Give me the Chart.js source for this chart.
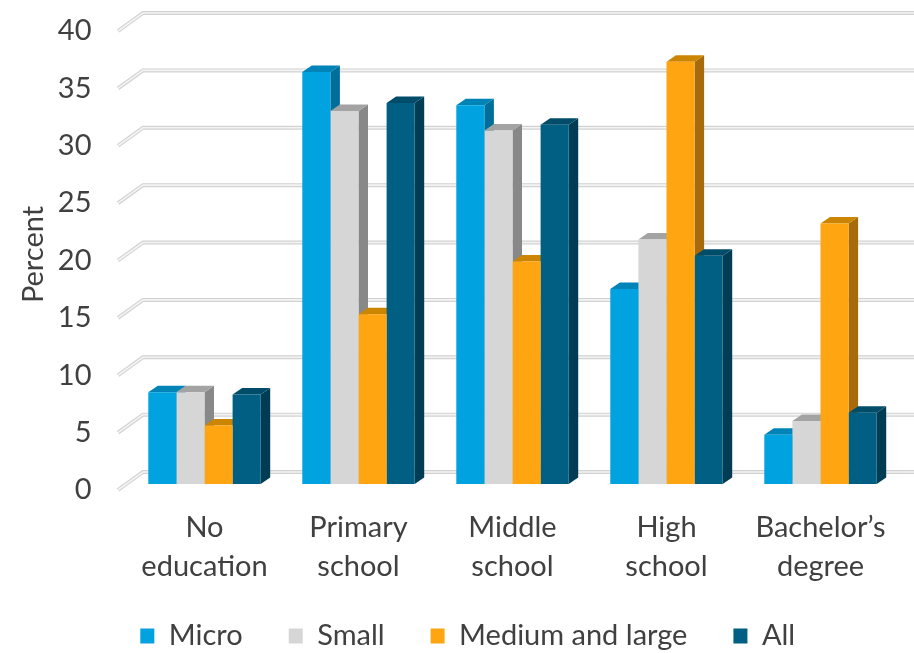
<!DOCTYPE html>
<html lang="en">
<head>
  <meta charset="UTF-8" />
  <title>Education by firm size</title>
  <script src="https://cdn.jsdelivr.net/npm/chart.js"></script>
  <style>
    html, body { margin: 0; padding: 0; background: #ffffff; }
  </style>
</head>
<body>
  <canvas id="grafico" width="914" height="653"></canvas>
<script>
  // categories and series (percent)
  const niveis = [['No', 'education'], ['Primary', 'school'], ['Middle', 'school'], ['High', 'school'], ['Bachelor\u2019s', 'degree']];
  const micro = [8.0, 35.9, 33.0, 17.0, 4.3];
  const small = [8.0, 32.5, 30.8, 21.3, 5.5];
  const mediumLarge = [5.1, 14.8, 19.4, 36.8, 22.7];
  const todos = [7.8, 33.2, 31.3, 19.9, 6.2];
  const yMin = 0;
  const yMax = 40;
  const yStep = 5;

  const textColor = '#404040';
  const fonte = 'Lato, "Open Sans", sans-serif';
  const tamanho = 29;

  // front / top / side colours for each series
  const cores = [
    { front: '#00a3e0', top: '#0084b8', side: '#006e9a' },
    { front: '#d6d6d6', top: '#a3a3a3', side: '#888888' },
    { front: '#ffa511', top: '#cc8500', side: '#a86b0b' },
    { front: '#005f83', top: '#004c69', side: '#003c53' }
  ];

  // offset of the back plane relative to the bar front
  const DX = 9.5, DY = -6.5;

  // back wall gridlines + bar depth faces, drawn before the bar fronts
  const profundidade = {
    id: 'profundidade',
    afterLayout(chart) {
      // legend sits a bit right of the canvas centre and lower
      chart.legend.left += 19;
      chart.legend.right += 19;
      chart.legend.top += 7.5;
      chart.legend.bottom += 7.5;
      // let the two-line category labels run below the axis box
      chart.scales.x.bottom = chart.height;
    },
    beforeDatasetsDraw(chart) {
      const ctx = chart.ctx;
      const y = chart.scales.y;
      const wallLeft = chart.chartArea.left + 15.5;
      ctx.save();
      y.ticks.forEach(function (t) {
        const py = y.getPixelForValue(t.value);
        const pts = [[wallLeft - 25, py + 6], [wallLeft, py - 12], [chart.width, py - 12]];
        [[4, '#d2d2d2'], [1.6, '#f4f4f4']].forEach(function (s) {
          ctx.lineWidth = s[0];
          ctx.strokeStyle = s[1];
          ctx.beginPath();
          ctx.moveTo(pts[0][0], pts[0][1]);
          ctx.lineTo(pts[1][0], pts[1][1]);
          ctx.lineTo(pts[2][0], pts[2][1]);
          ctx.stroke();
        });
      });

      const barras = [];
      chart.data.datasets.forEach(function (ds, i) {
        chart.getDatasetMeta(i).data.forEach(function (el) {
          const p = el.getProps(['x', 'y', 'base', 'width'], true);
          barras.push({ l: p.x - p.width / 2, r: p.x + p.width / 2, t: p.y, b: p.base, c: cores[i] });
        });
      });

      // side faces first, then top faces
      barras.forEach(function (b) {
        ctx.fillStyle = b.c.side;
        ctx.beginPath();
        ctx.moveTo(b.r, b.b);
        ctx.lineTo(b.r + DX, b.b + DY);
        ctx.lineTo(b.r + DX, b.t + DY);
        ctx.lineTo(b.r, b.t);
        ctx.closePath();
        ctx.fill();
      });
      barras.forEach(function (b) {
        ctx.fillStyle = b.c.top;
        ctx.beginPath();
        ctx.moveTo(b.l, b.t);
        ctx.lineTo(b.l + DX, b.t + DY);
        ctx.lineTo(b.r + DX, b.t + DY);
        ctx.lineTo(b.r, b.t);
        ctx.closePath();
        ctx.fill();
      });
      ctx.restore();
    }
  };

  const dados = {
    labels: niveis,
    datasets: [
      { label: 'Micro', data: micro, backgroundColor: cores[0].front },
      { label: 'Small', data: small, backgroundColor: cores[1].front },
      { label: 'Medium and large', data: mediumLarge, backgroundColor: cores[2].front },
      { label: 'All', data: todos, backgroundColor: cores[3].front }
    ]
  };

  const config = {
    type: 'bar',
    data: dados,
    plugins: [profundidade],
    options: {
      responsive: false,
      animation: false,
      layout: { padding: { top: 25, right: 16.5, left: 0, bottom: 0 } },
      datasets: { bar: { categoryPercentage: 0.73, barPercentage: 1.0 } },
      plugins: {
        tooltip: { enabled: false },
        legend: {
          position: 'bottom',
          labels: {
            color: textColor,
            font: { family: fonte, size: tamanho },
            boxWidth: 14,
            boxHeight: 15,
            padding: 46
          }
        }
      },
      scales: {
        x: {
          grid: { display: false, drawTicks: false },
          border: { display: false },
          ticks: {
            color: textColor,
            font: { family: fonte, size: tamanho, lineHeight: 1.35 },
            padding: 24,
            maxRotation: 0,
            autoSkip: false
          },
          afterFit(scale) { scale.height = 84; }
        },
        y: {
          min: yMin,
          max: yMax,
          grid: { display: false, drawTicks: false },
          border: { display: false },
          ticks: {
            stepSize: yStep,
            color: textColor,
            font: { family: fonte, size: tamanho },
            padding: 36,
            labelOffset: 6
          },
          title: {
            display: true,
            text: 'Percent',
            color: textColor,
            font: { family: fonte, size: tamanho },
            padding: { top: 16, bottom: 0 }
          },
          afterFit(scale) {
            scale.width = 127.5;
            scale.paddingTop = 0;
            scale.paddingBottom = 0;
          }
        }
      }
    }
  };

  let myChart = new Chart(document.getElementById('grafico'), config);
</script>
</body>
</html>
